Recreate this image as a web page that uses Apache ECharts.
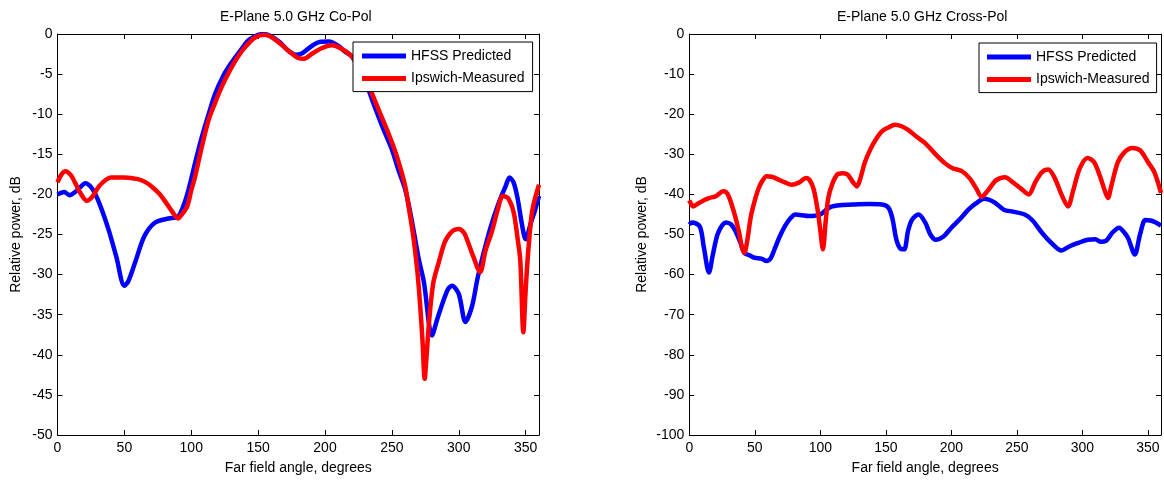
<!DOCTYPE html>
<html>
<head>
<meta charset="utf-8">
<script src="https://cdn.jsdelivr.net/npm/echarts@6/dist/echarts.min.js"></script>
<style>
html,body{margin:0;padding:0;background:#fff;}
#chart{width:1164px;height:480px;}
</style>
</head>
<body>
<div id="chart"></div>
<script>
// ---- Data ----
var seriesNames = ['HFSS Predicted', 'Ipswich-Measured'];
var titles = ['E-Plane 5.0 GHz Co-Pol', 'E-Plane 5.0 GHz Cross-Pol'];
var xTicks = [0, 50, 100, 150, 200, 250, 300, 350];

// Co-Pol, HFSS Predicted
var coHfssAngle = [0, 5, 9, 14, 21, 26, 31, 38, 44, 50, 53, 58, 65, 73, 83, 90, 94, 98, 103, 108, 113, 118, 124, 130, 137, 143, 150, 155, 160, 166, 172, 178, 183, 190, 196, 203, 210, 215, 220, 228, 237, 244, 250, 255, 260, 264, 267, 270, 274, 280, 284, 288, 292, 295, 300, 305, 310, 314, 318, 324, 330, 335, 338, 341, 344, 347, 350, 354, 357, 360];
var coHfssValue = [-20.0, -19.7, -20.1, -19.6, -18.6, -19.3, -21.0, -24.3, -27.8, -31.4, -30.8, -28.5, -25.2, -23.5, -23.0, -22.8, -21.5, -19.4, -16.0, -12.8, -10.0, -7.4, -5.2, -3.6, -2.0, -0.75, -0.1, 0, -0.3, -1.0, -2.0, -2.6, -2.4, -1.5, -1.0, -0.95, -1.5, -2.2, -2.8, -5.0, -9.0, -12.0, -14.4, -17.0, -19.4, -22.5, -25.2, -28.0, -31.0, -37.6, -35.5, -33.5, -31.8, -31.4, -32.4, -35.9, -33.9, -30.5, -27.7, -24.0, -21.0, -19.0, -17.9, -18.5, -20.5, -23.5, -25.6, -23.5, -22.0, -20.2];

// Co-Pol, Ipswich-Measured
var coMeasAngle = [0, 3, 6, 10, 13, 17, 22, 26, 31, 36, 40, 50, 60, 66, 71, 76, 81, 86, 90, 93, 97, 100, 103, 108, 113, 118, 123, 129, 135, 141, 148, 155, 161, 168, 174, 180, 184, 190, 197, 205, 212, 220, 230, 240, 246, 252, 256, 260, 263, 266, 269, 271, 273, 274.5, 276, 278, 281, 285, 289, 292, 296, 300, 304, 307, 311, 316, 320, 325, 329, 333, 337, 341, 344, 346, 348.3, 350, 352, 355, 360];
var coMeasValue = [-18.5, -17.5, -17.1, -17.6, -18.5, -19.8, -20.8, -20.3, -19.0, -18.2, -17.9, -17.9, -18.1, -18.5, -19.1, -19.9, -21.0, -22.2, -23.0, -22.5, -21.5, -19.5, -17.7, -14.0, -10.7, -8.5, -6.5, -4.5, -2.8, -1.5, -0.4, -0.1, -0.5, -1.4, -2.3, -3.0, -3.1, -2.5, -1.8, -1.4, -1.8, -2.8, -5.5, -9.4, -11.8, -14.4, -16.5, -19.0, -22.0, -25.2, -29.5, -33.5, -38.5, -43.0, -40.0, -35.5, -31.0, -28.5, -26.2, -25.2, -24.5, -24.3, -24.8, -26.0, -27.8, -29.7, -27.0, -24.5, -22.0, -20.2, -20.5, -22.2, -25.5, -28.2, -37.2, -32.0, -27.0, -22.0, -18.8];

// Cross-Pol, HFSS Predicted
var xpHfssAngle = [0, 2, 8, 11, 15, 18, 22, 28, 32, 35, 39, 42, 46, 50, 55, 59, 62, 65, 69, 73, 77, 81, 86, 91, 96, 100, 104, 108, 115, 126, 137, 147, 152, 155, 158, 161, 164, 167, 170, 175, 180, 184, 188, 194, 200, 207, 213, 219, 225, 233, 240, 247, 256, 262, 269, 276, 284, 290, 297, 304, 310, 314, 318, 323, 328, 332, 335, 340, 344, 348, 352, 356, 360];
var xpHfssValue = [-47.5, -47, -48, -53, -59.5, -55, -49.6, -47, -47.5, -49, -52, -54.6, -55.2, -55.8, -56, -56.6, -56, -53.7, -50.5, -47.9, -46, -45, -45.2, -45.4, -45.3, -45, -44, -43.1, -42.7, -42.5, -42.4, -42.5, -43.3, -46, -51.2, -53.5, -53.7, -49, -46.3, -45, -47, -50, -51.3, -50.5, -48.3, -46, -43.8, -42.2, -41.1, -42, -43.8, -44.3, -45, -46.5, -49.5, -52, -54, -53, -52.1, -51.3, -51.2, -51.8, -51.6, -49.5, -48.3, -49.5, -51, -55, -50, -46.4, -46.5, -47, -47.8];

// Cross-Pol, Ipswich-Measured
var xpMeasAngle = [0, 3, 7, 11, 15, 20, 26, 29, 32, 35, 38, 40, 42, 44, 47, 50, 53, 56, 59, 63, 68, 73, 78, 84, 89, 92, 95, 98, 100, 102, 104, 106, 109, 113, 117, 121, 125, 128, 131, 134, 138, 142, 147, 152, 157, 162, 167, 173, 180, 188, 195, 201, 208, 214, 219, 223, 228, 234, 241, 247, 253, 259, 264, 269, 274, 279, 284, 289, 293, 298, 304, 309, 314, 317, 319.5, 322, 327, 332, 338, 344, 350, 355, 360];
var xpMeasValue = [-41.5, -43, -42.2, -41.5, -40.9, -40.5, -39.2, -39.8, -42.2, -45.5, -49.5, -53, -54.6, -52, -45.5, -41.5, -38.4, -36.5, -35.5, -35.6, -36.3, -37, -37.6, -37, -35.9, -36.5, -38.8, -44, -49, -53.7, -47, -41, -37.5, -35, -34.7, -35.1, -37, -38, -35.5, -32, -28.9, -26.5, -24.3, -23.3, -22.6, -23, -23.9, -25.5, -27.2, -30, -32.2, -33.5, -34.2, -36, -38.5, -40.6, -39, -36.5, -35.7, -37, -38.5, -40, -37, -34.5, -33.8, -36, -40, -43, -39, -33.5, -30.9, -32, -36, -39, -40.9, -38, -32, -29.5, -28.4, -29, -31.9, -34.5, -39.6];

// ---- Build ----
function pairs(a, v) { return a.map(function (x, i) { return [x, v[i]]; }); }
var FONT = 'Liberation Sans, Arial, Helvetica, sans-serif';
var FS = 14;
var COLORS = ['#0000ff', '#ff0000'];

function xAxisDef(grid, pos) {
  var bottom = pos === 'bottom';
  return {
    type: 'value', gridIndex: grid, position: pos, min: 0, max: 360, interval: 50,
    axisLine: { show: true, onZero: false, lineStyle: { color: '#000', width: 1 } },
    axisTick: { show: true, inside: true, length: 5, lineStyle: { color: '#000' } },
    axisLabel: { show: bottom, color: '#000', fontFamily: FONT, fontSize: FS, margin: 6, showMaxLabel: false },
    splitLine: { show: false },
    name: bottom ? 'Far field angle, degrees' : '',
    nameLocation: 'middle', nameGap: 26,
    nameTextStyle: { color: '#000', fontFamily: FONT, fontSize: FS }
  };
}
function yAxisDef(grid, pos, min, interval, gap) {
  var left = pos === 'left';
  return {
    type: 'value', gridIndex: grid, position: pos, min: min, max: 0, interval: interval,
    axisLine: { show: true, onZero: false, lineStyle: { color: '#000', width: 1 } },
    axisTick: { show: true, inside: true, length: 5, lineStyle: { color: '#000' } },
    axisLabel: { show: left, color: '#000', fontFamily: FONT, fontSize: FS, margin: 5 },
    splitLine: { show: false },
    name: left ? 'Relative power, dB' : '',
    nameLocation: 'middle', nameGap: gap, nameRotate: 90,
    nameTextStyle: { color: '#000', fontFamily: FONT, fontSize: FS }
  };
}
function lineSeries(name, data, xi, yi, ci) {
  return {
    type: 'line', name: name, data: data, xAxisIndex: xi, yAxisIndex: yi,
    showSymbol: false, symbol: 'none', smooth: 0.3,
    lineStyle: { color: COLORS[ci], width: 4.5 }, itemStyle: { color: COLORS[ci] },
    animation: false
  };
}
function legendDef(left, top, pad) {
  return {
    data: seriesNames, orient: 'vertical', left: left, top: top,
    padding: pad, itemGap: 6.6, itemWidth: 44, itemHeight: 5, icon: 'rect',
    backgroundColor: '#fff', borderColor: '#000', borderWidth: 1, borderRadius: 0,
    textStyle: { color: '#000', fontFamily: FONT, fontSize: FS, lineHeight: 16 },
    selectedMode: false
  };
}

var option = {
  backgroundColor: '#fff',
  animation: false,
  grid: [
    { left: 57.5, right: 625, top: 34, bottom: 43.5, show: false },
    { left: 689.3, right: 3, top: 34, bottom: 43.5, show: false }
  ],
  xAxis: [xAxisDef(0, 'bottom'), xAxisDef(0, 'top'), xAxisDef(1, 'bottom'), xAxisDef(1, 'top')],
  yAxis: [yAxisDef(0, 'left', -50, 5, 34), yAxisDef(0, 'right', -50, 5, 34),
          yAxisDef(1, 'left', -100, 10, 40), yAxisDef(1, 'right', -100, 10, 40)],
  legend: [legendDef(353, 42, [6, 8, 5, 9]), legendDef(979, 43, [6, 7, 5, 8])],
  graphic: [
    { type: 'text', left: 298 - 78, top: 10, style: { text: titles[0], fill: '#000', font: FS + 'px ' + FONT } },
    { type: 'text', left: 925 - 88, top: 10, style: { text: titles[1], fill: '#000', font: FS + 'px ' + FONT } }
  ],
  series: [
    lineSeries(seriesNames[0], pairs(coHfssAngle, coHfssValue), 0, 0, 0),
    lineSeries(seriesNames[1], pairs(coMeasAngle, coMeasValue), 0, 0, 1),
    lineSeries(seriesNames[0], pairs(xpHfssAngle, xpHfssValue), 2, 2, 0),
    lineSeries(seriesNames[1], pairs(xpMeasAngle, xpMeasValue), 2, 2, 1)
  ]
};
var chart = echarts.init(document.getElementById('chart'), null, { renderer: 'canvas' });
chart.setOption(option);
</script>
</body>
</html>
